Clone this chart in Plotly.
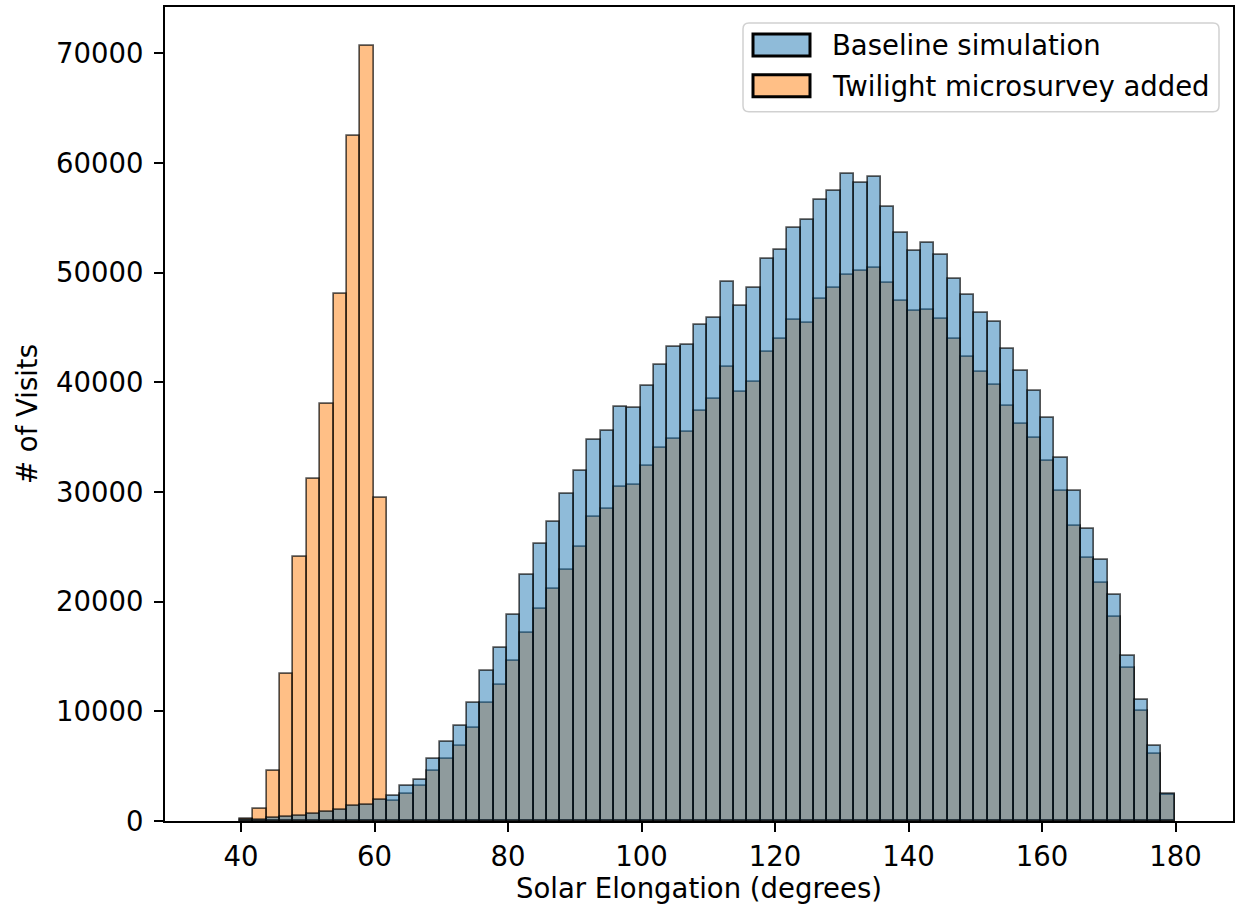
import plotly.graph_objects as go

# ---------------- data ----------------
# nominal left edge of each 2-degree bin (solar elongation, degrees)
bin_labels = [40 + 2 * i for i in range(70)]

baseline_counts = [
    60, 120, 270, 390, 490, 670, 790, 1000, 1340, 1430,          # 40-58
    1950, 2250, 3150, 3700, 5650, 7190, 8710, 10780, 13690, 15760,  # 60-78
    18790, 22400, 25230, 27290, 29780, 31880, 34790, 35550, 37740, 37710,  # 80-98
    39680, 41600, 43200, 43400, 45200, 45900, 49200, 47000, 48600, 51300,  # 100-118
    52100, 54100, 54800, 56600, 57500, 59000, 58200, 58700, 56000, 53600,  # 120-138
    52000, 52700, 51600, 49400, 47960, 46350, 45490, 43060, 41000, 39250,  # 140-158
    36750, 33150, 30130, 26640, 23790, 20570, 15080, 11070, 6820, 2470,    # 160-178
]

twilight_counts = [
    150, 1120, 4580, 13400, 24100, 31200, 38000, 48100, 62500, 70700,      # 40-58
    29500, 1800, 2490, 3160, 4550, 5650, 6830, 8470, 10780, 12390,         # 60-78
    14570, 17150, 19340, 21190, 22920, 25020, 27720, 28480, 30420, 30660,  # 80-98
    32420, 34000, 34800, 35500, 37400, 38500, 41400, 39100, 40000, 42800,  # 100-118
    44000, 45700, 45400, 47600, 48600, 49800, 50200, 50400, 49100, 47400,  # 120-138
    46500, 46600, 45800, 44000, 42300, 40970, 39730, 37880, 36240, 34930,  # 140-158
    32840, 30130, 26880, 24030, 21670, 18620, 13950, 10040, 6140, 2370,    # 160-178
]

series_names = ["Baseline simulation", "Twilight microsurvey added"]
x_tick_vals = [40, 60, 80, 100, 120, 140, 160, 180]
y_tick_vals = [0, 10000, 20000, 30000, 40000, 50000, 60000, 70000]
x_title = "Solar Elongation (degrees)"
y_title = "# of Visits"

# ---------------- style ----------------
BIN_WIDTH = 2.0
BIN_SHIFT = -0.15
FONT = "DejaVu Sans"
FS = 27.5
BLUE = "rgba(31,119,180,0.5)"
ORANGE = "rgba(255,127,14,0.5)"
EDGE = "rgba(0,0,0,0.66)"

W, H = 1248, 908
PL, PR, PT, PB = 165, 1233, 5, 821   # plot-area pixel edges

x_centers = [b + BIN_SHIFT + BIN_WIDTH / 2 for b in bin_labels]

fig = go.Figure()
fig.add_trace(go.Bar(
    x=x_centers, y=twilight_counts, width=BIN_WIDTH, name=series_names[1],
    marker=dict(color=ORANGE, line=dict(color=EDGE, width=1.7)),
    showlegend=False,
))
fig.add_trace(go.Bar(
    x=x_centers, y=baseline_counts, width=BIN_WIDTH, name=series_names[0],
    marker=dict(color=BLUE, line=dict(color=EDGE, width=1.7)),
    showlegend=False,
))

axis_common = dict(
    showline=True, linecolor="black", linewidth=2.2, mirror=True,
    ticks="outside", ticklen=9, tickwidth=2.2, tickcolor="black",
    showgrid=False, zeroline=False,
    tickfont=dict(family=FONT, size=FS, color="black"),
)

fig.update_layout(
    width=W, height=H,
    margin=dict(l=PL, r=W - PR, t=PT, b=H - PB),
    paper_bgcolor="white", plot_bgcolor="white",
    barmode="overlay", bargap=0,
    font=dict(family=FONT, size=FS, color="black"),
    xaxis=dict(
        range=[28.6, 188.6], tickvals=x_tick_vals,
        ticklabelstandoff=1,
        title=dict(text=x_title, font=dict(family=FONT, size=FS, color="black"), standoff=6),
        **axis_common,
    ),
    yaxis=dict(
        range=[0, 74240], tickvals=y_tick_vals, tickformat="d",
        ticklabelstandoff=5,
        title=dict(text=y_title, font=dict(family=FONT, size=FS, color="black"), standoff=10),
        **axis_common,
    ),
    showlegend=False,
)

# ---------------- legend (box, swatches, texts) ----------------
def px_x(px):
    return (px - PL) / (PR - PL)

def px_y(py):
    return (PB - py) / (PB - PT)

def rounded_rect(x0p, y0p, x1p, y1p, r):
    rx = r / (PR - PL)
    ry = r / (PB - PT)
    x0, x1 = px_x(x0p), px_x(x1p)
    yt, yb = px_y(y0p), px_y(y1p)
    return (
        f"M {x0+rx},{yb} L {x1-rx},{yb} Q {x1},{yb} {x1},{yb+ry} "
        f"L {x1},{yt-ry} Q {x1},{yt} {x1-rx},{yt} "
        f"L {x0+rx},{yt} Q {x0},{yt} {x0},{yt-ry} "
        f"L {x0},{yb+ry} Q {x0},{yb} {x0+rx},{yb} Z"
    )

fig.add_shape(type="path", xref="paper", yref="paper",
              path=rounded_rect(743, 21, 1219, 110, 6),
              fillcolor="rgba(255,255,255,0.8)",
              line=dict(color="rgba(204,204,204,0.9)", width=1.5))

legend_rows = [(series_names[0], BLUE, 32, 54), (series_names[1], ORANGE, 73, 95)]
for name, col, y0p, y1p in legend_rows:
    fig.add_shape(type="rect", xref="paper", yref="paper",
                  x0=px_x(753), x1=px_x(810), y0=px_y(y1p), y1=px_y(y0p),
                  fillcolor=col, line=dict(color="black", width=3))
    fig.add_annotation(xref="paper", yref="paper", x=px_x(830), y=px_y((y0p + y1p) / 2),
                       text=name, showarrow=False, xanchor="left", yanchor="middle",
                       font=dict(family=FONT, size=FS, color="black"))

fig.write_html("out.html",
               config={"displayModeBar": False},
               post_script="document.body.style.margin='0px';document.body.style.overflow='hidden';")
